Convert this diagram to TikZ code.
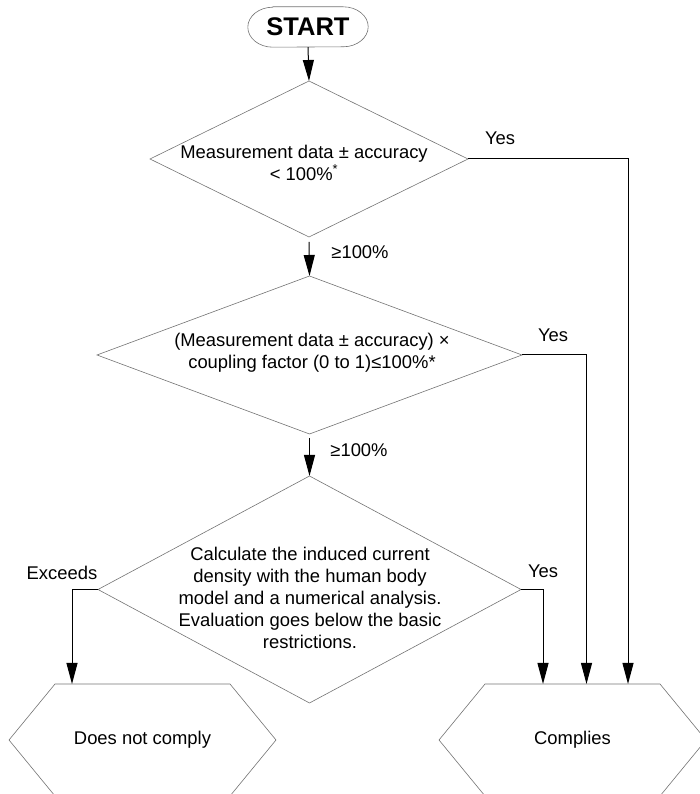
\documentclass[tikz,border=0pt]{standalone}
\usepackage{fontspec}
\setmainfont{Liberation Sans}
\usetikzlibrary{shapes.geometric,arrows.meta,calc}
\tikzset{
  shapeline/.style={draw=black!55, line width=0.6pt},
  dia/.style={shape=diamond, shapeline, inner sep=0pt, outer sep=0pt},
  hexbox/.style={draw=none, inner sep=0pt, outer sep=0pt, minimum width=267pt, minimum height=112pt, font=\fontsize{18.4}{22}\selectfont},
  conn/.style={draw=black, line width=1pt, -{Triangle[length=21pt,width=11pt]}},
  lbl/.style={font=\fontsize{18.4}{22}\selectfont, inner sep=0pt},
  dtext/.style={font=\fontsize{18.4}{22}\selectfont, align=center, inner sep=0pt},
}
\begin{document}
\begin{tikzpicture}[x=1pt,y=1pt]
\useasboundingbox (0,0) rectangle (700,794);
% START
\node[draw=none, inner sep=0pt, minimum width=120pt, minimum height=40pt, font=\fontsize{25.5}{28}\selectfont\bfseries] (st) at (308,767) {START};
\draw[shapeline] ([xshift=25pt]st.north west) -- ([xshift=-25pt]st.north east)
  arc[start angle=90, end angle=-90, x radius=25pt, y radius=20pt]
  -- ([xshift=25pt]st.south west)
  arc[start angle=270, end angle=90, x radius=25pt, y radius=20pt] -- cycle;
% diamonds
\node[dia, minimum width=318pt, minimum height=156pt] (d1) at (309,635) {};
\node[dia, minimum width=425pt, minimum height=158pt] (d2) at (309.5,439) {};
\node[dia, minimum width=423pt, minimum height=227pt] (d3) at (309.5,204.5) {};
\node[dtext] (t1) at (304,631.5) {Measurement data \textpm{} accuracy\\ < 100\%\textsuperscript{*}};
\node[dtext] (t2) at (312,441.5) {(Measurement data \textpm{} accuracy) ×\\ coupling factor (0 to 1)≤100\%*};
\node[dtext] (t3) at (310,196.5) {Calculate the induced current\\ density with the human body\\ model and a numerical analysis.\\ Evaluation goes below the basic\\ restrictions.};
% end boxes
\node[hexbox] (nd) at (142.5,54) {Does not comply};
\node[hexbox] (nc) at (572.5,54) {Complies};
\foreach \n in {nd,nc}{
  \draw[shapeline] (\n.west) -- ([xshift=46pt]\n.north west) -- ([xshift=-46pt]\n.north east)
    -- (\n.east) -- ([xshift=-46pt]\n.south east) -- ([xshift=46pt]\n.south west) -- cycle;
}
% connectors
\draw[conn] (st.south) -- (d1.north);
\draw[conn, shorten <=5pt] (d1.south) -- (d2.north);
\draw[conn, shorten <=4pt] (d2.south) -- (d3.north);
\draw[conn] (d1.east) -| ([xshift=55.5pt]nc.north);
\draw[conn] (d2.east) -| ([xshift=14pt]nc.north);
\draw[conn] (d3.east) -| ([xshift=-29.5pt]nc.north);
\draw[conn] (d3.west) -| ([xshift=-70.5pt]nd.north);
% labels
\node[lbl] (y1) at (500,656) {Yes};
\node[lbl] (y2) at (553,459) {Yes};
\node[lbl] (y3) at (543,223) {Yes};
\node[lbl] (ex) at (62,221) {Exceeds};
\node[lbl] (g1) at (360,542) {≥100\%};
\node[lbl] (g2) at (359,344) {≥100\%};
\end{tikzpicture}
\end{document}
